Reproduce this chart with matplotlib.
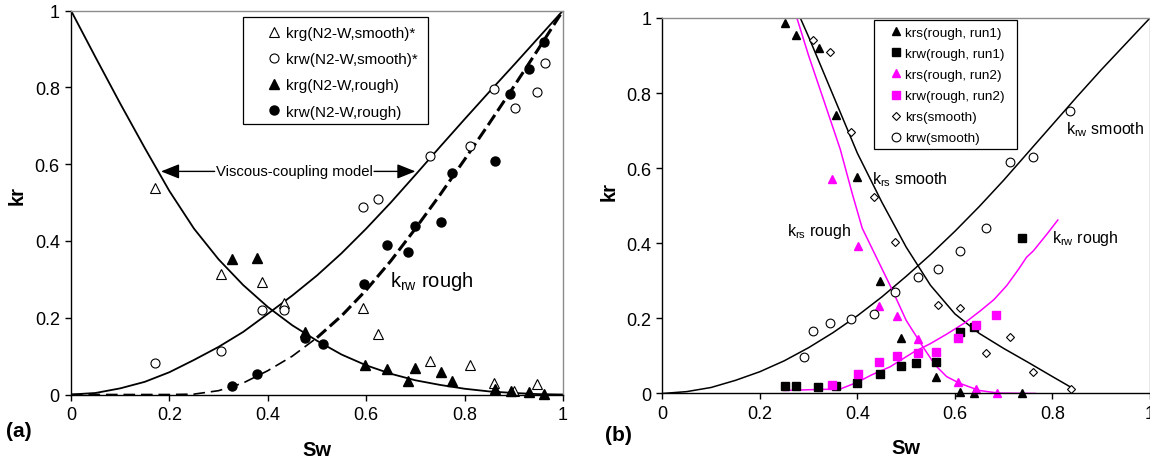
import matplotlib
matplotlib.use('Agg')
import matplotlib.pyplot as plt
from matplotlib.patches import Rectangle

plt.rcParams['font.family'] = ['Liberation Sans', 'DejaVu Sans']
plt.rcParams['mathtext.fontset'] = 'custom'
plt.rcParams['mathtext.rm'] = 'Liberation Sans'
plt.rcParams['mathtext.it'] = 'Liberation Sans:italic'

ticks = [0, 0.2, 0.4, 0.6, 0.8, 1]
tick_labels = ['0', '0.2', '0.4', '0.6', '0.8', '1']

# ---- panel (a): N2-water, smooth vs rough ----
sw_g_smooth = [0.171, 0.304, 0.389, 0.432, 0.594, 0.623, 0.730, 0.811, 0.859, 0.900, 0.947]
krg_smooth = [0.539, 0.314, 0.293, 0.238, 0.226, 0.158, 0.086, 0.076, 0.030, 0.008, 0.028]
sw_w_smooth = [0.171, 0.304, 0.389, 0.432, 0.594, 0.623, 0.730, 0.811, 0.859, 0.902, 0.947, 0.964]
krw_smooth = [0.082, 0.112, 0.220, 0.219, 0.488, 0.508, 0.622, 0.648, 0.796, 0.745, 0.787, 0.863]
sw_g_rough = [0.327, 0.379, 0.476, 0.598, 0.642, 0.684, 0.700, 0.753, 0.775, 0.861, 0.895, 0.930, 0.962]
krg_rough = [0.352, 0.355, 0.162, 0.076, 0.067, 0.036, 0.069, 0.058, 0.035, 0.015, 0.010, 0.006, 0.002]
sw_w_rough = [0.327, 0.379, 0.476, 0.513, 0.596, 0.642, 0.684, 0.700, 0.753, 0.775, 0.861, 0.892, 0.930, 0.962]
krw_rough = [0.021, 0.054, 0.148, 0.132, 0.288, 0.390, 0.372, 0.438, 0.449, 0.577, 0.609, 0.783, 0.848, 0.917]

# viscous-coupling model curves
sw_model = [0, 0.05, 0.1, 0.15, 0.2, 0.25, 0.3, 0.35, 0.4, 0.45, 0.5,
            0.55, 0.6, 0.65, 0.7, 0.75, 0.8, 0.85, 0.9, 0.95, 1.0]
krg_model = [1.0, 0.878, 0.758, 0.642, 0.53, 0.432, 0.352, 0.285, 0.228, 0.18, 0.14,
             0.104, 0.076, 0.054, 0.037, 0.025, 0.015, 0.008, 0.004, 0.001, 0.0]
krw_model = [0, 0.004, 0.016, 0.033, 0.058, 0.09, 0.124, 0.163, 0.21, 0.258, 0.31,
             0.368, 0.432, 0.5, 0.572, 0.645, 0.717, 0.788, 0.858, 0.929, 1.0]
sw_rough_fit = [0, 0.1, 0.2, 0.25, 0.3, 0.35, 0.4, 0.45, 0.5, 0.55, 0.6, 0.65,
                0.7, 0.75, 0.8, 0.85, 0.9, 0.95, 1.0]
krw_rough_fit = [0, 0, 0, 0.001, 0.01, 0.03, 0.062, 0.1, 0.148, 0.205, 0.272, 0.348,
                 0.432, 0.52, 0.612, 0.706, 0.802, 0.9, 1.0]

# ---- panel (b): rough runs vs smooth ----
sw_s_run1 = [0.252, 0.274, 0.321, 0.356, 0.400, 0.447, 0.489, 0.561, 0.611, 0.640, 0.737]
krs_run1 = [0.987, 0.955, 0.919, 0.742, 0.576, 0.299, 0.148, 0.045, 0.003, 0.0, 0.0]
sw_w_run1 = [0.252, 0.274, 0.320, 0.356, 0.399, 0.447, 0.489, 0.520, 0.561, 0.611, 0.640, 0.737]
krw_run1 = [0.019, 0.019, 0.016, 0.019, 0.028, 0.052, 0.074, 0.080, 0.083, 0.165, 0.176, 0.413]
sw_s_run2 = [0.347, 0.402, 0.444, 0.482, 0.525, 0.607, 0.643, 0.686]
krs_run2 = [0.571, 0.392, 0.234, 0.207, 0.145, 0.030, 0.012, 0.0]
sw_w_run2 = [0.347, 0.402, 0.444, 0.482, 0.525, 0.561, 0.606, 0.643, 0.685]
krw_run2 = [0.023, 0.052, 0.085, 0.099, 0.107, 0.110, 0.147, 0.183, 0.210]
sw_s_smooth = [0.309, 0.344, 0.387, 0.434, 0.477, 0.565, 0.611, 0.664, 0.713, 0.761, 0.838]
krs_smooth = [0.942, 0.909, 0.696, 0.523, 0.403, 0.236, 0.227, 0.108, 0.151, 0.056, 0.012]
sw_w_smooth_b = [0.291, 0.308, 0.344, 0.386, 0.435, 0.477, 0.525, 0.565, 0.611, 0.663, 0.713, 0.760, 0.836]
krw_smooth_b = [0.098, 0.167, 0.187, 0.198, 0.212, 0.271, 0.309, 0.332, 0.379, 0.440, 0.616, 0.631, 0.752]

sw_krw_smooth_fit = [0, 0.05, 0.1, 0.15, 0.2, 0.25, 0.3, 0.35, 0.4, 0.45, 0.5, 0.55, 0.6,
                     0.65, 0.7, 0.75, 0.8, 0.85, 0.9, 0.95, 1.0]
krw_smooth_fit = [0, 0.005, 0.016, 0.035, 0.058, 0.087, 0.122, 0.162, 0.207, 0.257, 0.312, 0.37, 0.432,
                  0.498, 0.568, 0.642, 0.716, 0.79, 0.862, 0.931, 1.0]
sw_krs_smooth_fit = [0.283, 0.3, 0.35, 0.4, 0.45, 0.5, 0.55, 0.6, 0.65, 0.7, 0.75, 0.8, 0.84]
krs_smooth_fit = [1.0, 0.95, 0.795, 0.64, 0.51, 0.39, 0.288, 0.212, 0.16, 0.12, 0.083, 0.045, 0.015]
sw_krs_rough_fit = [0.276, 0.3, 0.33, 0.365, 0.39, 0.41, 0.44, 0.47, 0.5, 0.535, 0.56,
                    0.583, 0.61, 0.65, 0.69, 0.765]
krs_rough_fit = [1.0, 0.9, 0.785, 0.65, 0.53, 0.44, 0.36, 0.28, 0.195, 0.123, 0.075,
                 0.045, 0.027, 0.008, 0.001, 0.0]
sw_krw_rough_fit = [0.25, 0.3, 0.365, 0.4, 0.43, 0.467, 0.515, 0.55, 0.583, 0.62, 0.652,
                    0.68, 0.706, 0.73, 0.747, 0.761, 0.789, 0.811]
krw_rough_fit_b = [0.008, 0.01, 0.012, 0.03, 0.05, 0.071, 0.11, 0.133, 0.158, 0.188, 0.22,
                   0.25, 0.287, 0.33, 0.363, 0.38, 0.425, 0.462]

MAGENTA = '#FF00FF'
GRAY = '#8c8c8c'


def format_ax(ax, ylabel_y):
    ax.set_xlim(0, 1)
    ax.set_ylim(0, 1)
    ax.set_xticks(ticks)
    ax.set_xticklabels(tick_labels)
    ax.set_yticks(ticks)
    ax.set_yticklabels(tick_labels)
    ax.tick_params(direction='out', length=4, width=1, labelsize=13, pad=4)
    for side in ['top', 'right']:
        ax.spines[side].set_color(GRAY)
        ax.spines[side].set_linewidth(1)
    for side in ['left', 'bottom']:
        ax.spines[side].set_linewidth(1)
    ax.set_xlabel('Sw', fontsize=14.5, fontweight='bold')
    ax.set_ylabel('kr', fontsize=14.5, fontweight='bold')
    ax.xaxis.set_label_coords(0.5, -0.118)
    ax.yaxis.set_label_coords(-0.09, ylabel_y)


fig = plt.figure(figsize=(11.5, 4.6), dpi=100)

# ---------------- (a) ----------------
ax1 = fig.add_axes([0.0617, 0.1402, 0.4279, 0.8348])
ax1.plot(sw_model, krg_model, color='black', lw=1.3)
ax1.plot(sw_model, krw_model, color='black', lw=1.3)
n_thin = sw_rough_fit.index(0.5) + 1
ax1.plot(sw_rough_fit[:n_thin], krw_rough_fit[:n_thin], color='black', lw=1.2, dashes=(7, 3.5))
ax1.plot(sw_rough_fit[n_thin - 1:], krw_rough_fit[n_thin - 1:], color='black', lw=2.2, dashes=(4, 1.6))

ax1.plot(sw_g_smooth, krg_smooth, ls='none', marker='^', ms=6.5, mfc='white', mec='black',
         mew=0.8, clip_on=False, label='krg(N2-W,smooth)*')
ax1.plot(sw_w_smooth, krw_smooth, ls='none', marker='o', ms=6.5, mfc='white', mec='black',
         mew=0.8, clip_on=False, label='krw(N2-W,smooth)*')
ax1.plot(sw_g_rough, krg_rough, ls='none', marker='^', ms=7, color='black',
         clip_on=False, label='krg(N2-W,rough)')
ax1.plot(sw_w_rough, krw_rough, ls='none', marker='o', ms=6.5, color='black',
         clip_on=False, label='krw(N2-W,rough)')

ax1.add_patch(Rectangle((0.350, 0.704), 0.375, 0.278, transform=ax1.transAxes,
                        fill=False, ec='black', lw=0.9, zorder=5))
ax1.legend(loc='upper left', bbox_to_anchor=(0.398, 0.960), frameon=False,
           fontsize=11, handlelength=1.0, handletextpad=0.25, labelspacing=0.8,
           borderpad=0, borderaxespad=0, numpoints=1)

ax1.text(0.4535, 0.581, 'Viscous-coupling model', ha='center', va='center', fontsize=10.7)
arrow = dict(arrowstyle='-|>,head_length=0.8,head_width=0.32', color='black', lw=1.0,
             mutation_scale=14, shrinkA=0, shrinkB=0)
ax1.annotate('', xy=(0.183, 0.581), xytext=(0.292, 0.581), arrowprops=arrow)
ax1.annotate('', xy=(0.700, 0.581), xytext=(0.616, 0.581), arrowprops=arrow)
ax1.text(0.648, 0.296, r'k$_{\rm rw}$ rough', fontsize=14.5, va='center')
format_ax(ax1, 0.52)

# ---------------- (b) ----------------
ax2 = fig.add_axes([0.5759, 0.1424, 0.4241, 0.8163])
ax2.plot(sw_krw_smooth_fit, krw_smooth_fit, color='black', lw=1.1)
ax2.plot(sw_krs_smooth_fit, krs_smooth_fit, color='black', lw=1.1)
ax2.plot(sw_krs_rough_fit, krs_rough_fit, color=MAGENTA, lw=1.1)
ax2.plot(sw_krw_rough_fit, krw_rough_fit_b, color=MAGENTA, lw=1.1)

ax2.plot(sw_s_run1, krs_run1, ls='none', marker='^', ms=6, color='black',
         clip_on=False, label='krs(rough, run1)')
ax2.plot(sw_w_run1, krw_run1, ls='none', marker='s', ms=5.3, color='black',
         clip_on=False, label='krw(rough, run1)')
ax2.plot(sw_s_run2, krs_run2, ls='none', marker='^', ms=6, color=MAGENTA,
         clip_on=False, label='krs(rough, run2)')
ax2.plot(sw_w_run2, krw_run2, ls='none', marker='s', ms=5.3, color=MAGENTA,
         clip_on=False, label='krw(rough, run2)')
ax2.plot(sw_s_smooth, krs_smooth, ls='none', marker='D', ms=4.2, mfc='white', mec='black',
         mew=0.8, clip_on=False, label='krs(smooth)')
ax2.plot(sw_w_smooth_b, krw_smooth_b, ls='none', marker='o', ms=6.3, mfc='white', mec='black',
         mew=0.8, clip_on=False, label='krw(smooth)')

ax2.add_patch(Rectangle((0.434, 0.651), 0.293, 0.344, transform=ax2.transAxes,
                        fill=False, ec='black', lw=0.9, zorder=5))
ax2.legend(loc='upper left', bbox_to_anchor=(0.466, 0.977), frameon=False,
           fontsize=9.7, handlelength=1.0, handletextpad=0.18, labelspacing=0.64,
           borderpad=0, borderaxespad=0, numpoints=1)

ax2.text(0.431, 0.571, r'k$_{\rm rs}$ smooth', fontsize=11.5, va='center')
ax2.text(0.255, 0.434, r'k$_{\rm rs}$ rough', fontsize=11.5, va='center')
ax2.text(0.828, 0.704, r'k$_{\rm rw}$ smooth', fontsize=11.5, va='center')
ax2.text(0.799, 0.416, r'k$_{\rm rw}$ rough', fontsize=11.5, va='center')
format_ax(ax2, 0.54)

fig.text(0.005, 0.061, '(a)', fontsize=15, fontweight='bold', va='center')
fig.text(0.526, 0.054, '(b)', fontsize=15, fontweight='bold', va='center')

fig.savefig('out.png', dpi=100)
